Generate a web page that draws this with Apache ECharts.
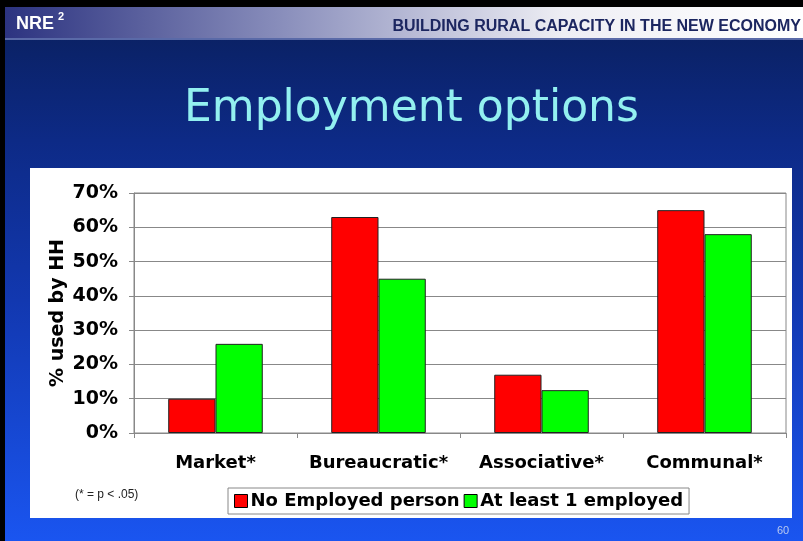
<!DOCTYPE html>
<html>
<head>
<meta charset="utf-8">
<script src="https://cdn.jsdelivr.net/npm/echarts@6/dist/echarts.min.js"></script>
<style>
html,body{margin:0;padding:0;background:#000;}
#main{width:803px;height:541px;}
</style>
</head>
<body>
<div id="main"></div>
<script>
var categories = ['Market*', 'Bureaucratic*', 'Associative*', 'Communal*'];
var seriesNames = ['No Employed person', 'At least 1 employed'];
var noEmployed = [10, 63, 17, 65];
var atLeastOne = [26, 45, 12.5, 58];
var yTicks = [0, 10, 20, 30, 40, 50, 60, 70];

var chart = echarts.init(document.getElementById('main'), null, {renderer: 'canvas'});
var font = '"DejaVu Sans", Verdana, sans-serif';
var option = {
  animation: false,
  backgroundColor: '#000',
  graphic: [
    {type: 'rect', z: -20, shape: {x: 5, y: 7, width: 798, height: 534},
     style: {fill: new echarts.graphic.LinearGradient(0, 0, 0, 1, [
       {offset: 0, color: '#0a1f5c'}, {offset: 0.25, color: '#0d2a86'},
       {offset: 0.55, color: '#1238b0'}, {offset: 1, color: '#1a55f0'}])}},
    {type: 'rect', z: -19, shape: {x: 5, y: 7, width: 798, height: 31},
     style: {fill: new echarts.graphic.LinearGradient(0, 0, 1, 0, [
       {offset: 0, color: '#2c3380'}, {offset: 0.35, color: '#8a8fbc'},
       {offset: 0.7, color: '#eeeef4'}, {offset: 1, color: '#ffffff'}])}},
    {type: 'rect', z: -19, shape: {x: 5, y: 38, width: 798, height: 2}, style: {fill: '#5a6aa8'}},
    {type: 'rect', z: -18, shape: {x: 30, y: 168, width: 762, height: 350}, style: {fill: '#ffffff'}},
    {type: 'text', z: 5, left: 16, top: 15, style: {text: 'NRE', fill: '#ffffff', font: 'bold 18px "Liberation Sans", Arial, sans-serif'}},
    {type: 'text', z: 5, left: 58, top: 11, style: {text: '2', fill: '#ffffff', font: 'bold 11px "Liberation Sans", Arial, sans-serif'}},
    {type: 'text', z: 5, right: 2, top: 19, style: {text: 'BUILDING RURAL CAPACITY IN THE NEW ECONOMY', fill: '#1c2660', font: 'bold 16px "Liberation Sans", Arial, sans-serif'}},
    {type: 'text', z: 5, left: 184, top: 88, style: {text: 'Employment options', fill: '#93f0f0', font: '44px "DejaVu Sans", Verdana, sans-serif'}},
    {type: 'text', z: 5, left: 75, top: 489, style: {text: '(* = p < .05)', fill: '#222', font: '12px "Liberation Sans", Arial, sans-serif'}},
    {type: 'text', z: 5, left: 777, top: 525, style: {text: '60', fill: '#b8c8f0', font: '11px "Liberation Sans", Arial, sans-serif'}}
  ],
  grid: {left: 134, right: 17, top: 193, bottom: 108, show: true, borderColor: '#888', borderWidth: 1, backgroundColor: '#fff'},
  legend: {
    data: seriesNames, left: 228, top: 488, orient: 'horizontal',
    borderColor: '#888', borderWidth: 1, padding: [4, 6, 4, 6], itemGap: 4,
    itemWidth: 13, itemHeight: 13, icon: 'rect',
    itemStyle: {borderColor: '#000', borderWidth: 1},
    textStyle: {fontFamily: font, fontWeight: 'bold', fontSize: 18, color: '#000', padding: [0, 0, 0, -2]}
  },
  xAxis: {
    type: 'category', data: categories,
    axisLine: {lineStyle: {color: '#888'}},
    axisTick: {show: true, length: 5, lineStyle: {color: '#888'}},
    axisLabel: {interval: 0, fontFamily: font, fontWeight: 'bold', fontSize: 18, color: '#000', margin: 21}
  },
  yAxis: {
    type: 'value', min: 0, max: 70, interval: 10,
    name: '% used by HH', nameLocation: 'middle', nameGap: 66, nameRotate: 90,
    nameMoveOverlap: false,
    nameTextStyle: {fontFamily: font, fontWeight: 'bold', fontSize: 19, color: '#000'},
    axisLine: {show: true, lineStyle: {color: '#888'}},
    axisTick: {show: true, length: 5, lineStyle: {color: '#888'}},
    splitLine: {lineStyle: {color: '#888'}},
    axisLabel: {fontFamily: font, fontWeight: 'bold', fontSize: 19, color: '#000', margin: 16,
      formatter: function (v) { return v + '%'; }}
  },
  series: [
    {name: seriesNames[0], type: 'bar', data: noEmployed, barGap: '0%', barCategoryGap: '42%',
     itemStyle: {color: '#ff0000', borderColor: '#222', borderWidth: 1}},
    {name: seriesNames[1], type: 'bar', data: atLeastOne,
     itemStyle: {color: '#00ff00', borderColor: '#222', borderWidth: 1}}
  ]
};
chart.setOption(option);
</script>
</body>
</html>
